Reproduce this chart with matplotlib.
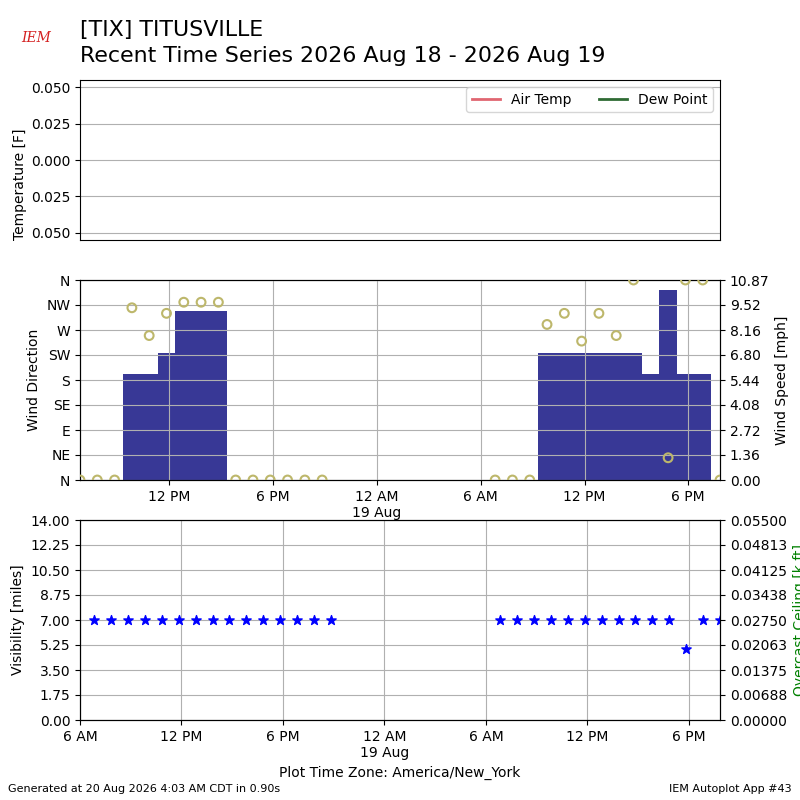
import numpy as np
import pandas as pd
import matplotlib
matplotlib.use("Agg")
import matplotlib.pyplot as plt
import matplotlib.dates as mdates
from matplotlib.ticker import FixedLocator, FormatStrFormatter

# hourly observations, local time (America/New_York)
valid = (["2026-08-18 %02d:50" % h for h in range(6, 21)]
         + ["2026-08-19 %02d:50" % h for h in range(6, 20)])

# wind direction [deg], nan = variable / missing
drct = [0, 0, 0, 310, 260, 300, 320, 320, 320, 0, 0, 0, 0, 0, 0,
        0, 0, 0, 280, 300, 250, 300, 260, 360, np.nan, 40, 360, 360, 0]
# wind speed [mph]
sped = [0, 0, 0, 5.754, 5.754, 6.905, 9.206, 9.206, 9.206, 0, 0, 0, 0, 0, 0,
        0, 0, 0, 6.905, 6.905, 6.905, 6.905, 6.905, 6.905, 5.754, 10.3567,
        5.754, 5.754, 0]
# visibility [miles]
vsby = [7] * 15 + [7] * 11 + [5, 7, 7]

dir_labels = ["N", "NE", "E", "SE", "S", "SW", "W", "NW", "N"]

df = pd.DataFrame({"valid": pd.to_datetime(valid), "drct": drct,
                   "sped": sped, "vsby": vsby})


def timefmt(x, pos=None):
    dt = mdates.num2date(x)
    h = dt.hour
    if h == 0:
        return "12 AM\n%d %s" % (dt.day, dt.strftime("%b"))
    if h == 12:
        return "12 PM"
    return "%d %s" % (h % 12, "AM" if h < 12 else "PM")


def setup_xaxis(ax):
    ax.xaxis.set_major_locator(mdates.HourLocator(byhour=[0, 6, 12, 18]))
    ax.xaxis.set_major_formatter(plt.FuncFormatter(timefmt))


fig = plt.figure(figsize=(8, 8), dpi=100)

# --- temperature panel (no data) ---
ax1 = fig.add_axes([0.1, 0.7, 0.8, 0.2])
ax1.plot([], [], color="#e06671", lw=2, label="Air Temp")
ax1.plot([], [], color="#2f6b34", lw=2, label="Dew Point")
ax1.set_ylim(-0.055, 0.055)
ticks = [-0.05, -0.025, 0, 0.025, 0.05]
ax1.set_yticks(ticks)
ax1.set_yticklabels(["%.3f" % abs(t) for t in ticks])
ax1.set_xticks([])
ax1.grid(True, axis="y")
ax1.set_ylabel("Temperature [F]")
ax1.yaxis.set_label_coords(-0.083, 0.35)
ax1.legend(loc="upper right", ncol=2)

# --- wind panel ---
ax2 = fig.add_axes([0.1, 0.4, 0.8, 0.25])
ax2b = ax2.twinx()
ax2b.bar(df["valid"], df["sped"], width=1 / 24., align="center",
         color="#383896")
ax2.scatter(df["valid"], df["drct"], s=40, facecolor="none",
            edgecolor="#bdb76b", lw=1.5, zorder=3, clip_on=True)
ax2.set_zorder(ax2b.get_zorder() + 1)
ax2.patch.set_visible(False)
ax2.set_ylim(0, 360)
ax2.set_yticks(np.arange(0, 361, 45))
ax2.set_yticklabels(dir_labels)
ax2.set_ylabel("Wind Direction")
smax = df["sped"].max() * 1.05
ax2b.set_ylim(0, smax)
ax2b.yaxis.set_major_locator(FixedLocator(np.linspace(0, smax, 9)))
ax2b.yaxis.set_major_formatter(FormatStrFormatter("%.2f"))
ax2b.set_ylabel("Wind Speed [mph]")
ax2.set_xlim(df["valid"].iloc[0], df["valid"].iloc[-1])
setup_xaxis(ax2)
ax2.grid(True)

# --- visibility panel ---
ax3 = fig.add_axes([0.1, 0.1, 0.8, 0.25])
ax3.scatter(df["valid"], df["vsby"], marker="*", s=50, color="b",
            zorder=3)
ax3.set_ylim(0, 14)
ax3.set_yticks(np.linspace(0, 14, 9))
ax3.yaxis.set_major_formatter(FormatStrFormatter("%.2f"))
ax3.set_ylabel("Visibility [miles]")
ax3.set_xlim(pd.Timestamp("2026-08-18 06:00"), df["valid"].iloc[-1])
setup_xaxis(ax3)
ax3.grid(True)
ax3b = ax3.twinx()
ax3b.set_ylim(0, 0.055)
ax3b.yaxis.set_major_locator(FixedLocator(np.linspace(0, 0.055, 9)))
ax3b.yaxis.set_major_formatter(FormatStrFormatter("%.5f"))
ax3b.set_ylabel("Overcast Ceiling [k ft]", color="g")
ax3.set_xlabel("Plot Time Zone: America/New_York")

# titles and footer
fig.text(0.1, 0.962, "[TIX] TITUSVILLE", fontsize=15.9, va="center")
fig.text(0.1, 0.930, "Recent Time Series 2026 Aug 18 - 2026 Aug 19",
         fontsize=15.9, va="center")
fig.text(0.045, 0.952, "IEM", color="#d42020", style="italic",
         family="DejaVu Serif", fontsize=10, ha="center", va="center")
fig.text(0.01, 0.01, "Generated at 20 Aug 2026 4:03 AM CDT in 0.90s",
         fontsize=8)
fig.text(0.99, 0.01, "IEM Autoplot App #43", fontsize=8, ha="right")

fig.savefig("out.png")
